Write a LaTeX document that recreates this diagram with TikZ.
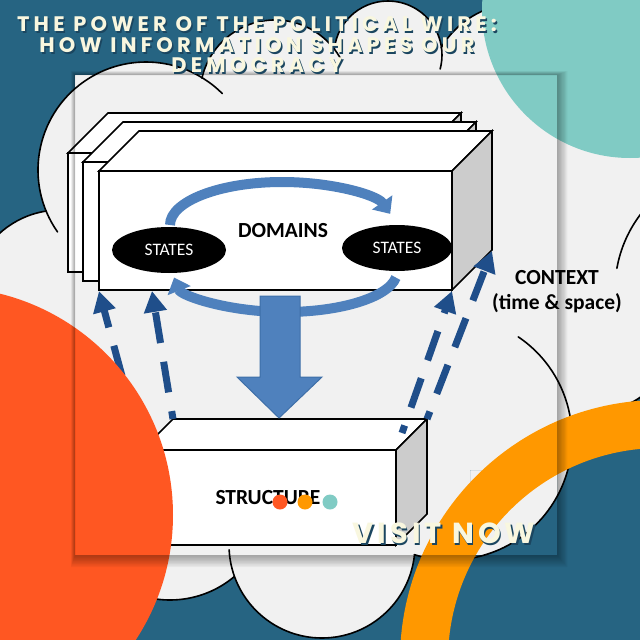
\documentclass[tikz,border=0pt]{standalone}
\usepackage{fontspec}
\setmainfont{Carlito}
\newfontfamily\titlefont{Poppins}[LetterSpace=20]
\newfontfamily\visitfont{Poppins}[LetterSpace=14]
\usetikzlibrary{arrows.meta,shapes.geometric}
\definecolor{bgblue}{HTML}{266482}
\definecolor{cloudgray}{HTML}{F1F1F1}
\definecolor{tealc}{HTML}{80CBC4}
\definecolor{orangered}{HTML}{FF5722}
\definecolor{orangec}{HTML}{FF9800}
\definecolor{blockblue}{HTML}{4F81BD}
\definecolor{blockedge}{HTML}{3E6FA8}
\definecolor{dashblue}{HTML}{1F4E8A}
\definecolor{sidegray}{HTML}{CCCCCC}
\definecolor{cream}{HTML}{F9F7DF}
\definecolor{tshadow}{HTML}{1B4660}
\newcommand{\shadowtext}[1]{\makebox[0pt][l]{\kern1.5pt\raisebox{-2pt}{\color{tshadow}#1}}#1}
\tikzset{
 cloudline/.style={draw=black, line width=1.6pt, line cap=round},
 boxface/.style={draw=black, line width=1.6pt, fill=white, line join=miter},
 sideface/.style={boxface, fill=sidegray},
 curvearrow/.style={draw=blockblue, line width=10pt, -{Triangle[width=24pt,length=14pt]}},
 blockarrow/.style={fill=blockblue, draw=blockedge, line width=1pt},
 dasharrow/.style={draw=dashblue, line width=7pt, dash pattern=on 31pt off 19pt, dash phase=23pt, -{Triangle[width=22pt,length=21pt]}},
 statenode/.style={ellipse, fill=black, inner sep=0pt, text=white, font=\fontsize{17.5}{17.5}\selectfont},
 labelnode/.style={font=\bfseries\fontsize{21.5}{21.5}\selectfont, text=black},
 titletext/.style={font=\titlefont\bfseries\fontsize{21}{21}\selectfont, anchor=base, text=cream, inner sep=0pt},
 dotnode/.style={circle, inner sep=0pt, minimum size=15pt},
}
\begin{document}
\begin{tikzpicture}[x=1pt,y=-1pt]
\useasboundingbox (0,0) rectangle (640,640);
\fill[bgblue] (0,0) rectangle (640,640);
% cloud fill
\fill[cloudgray] (146,170) circle (108) (60,300) circle (90) (275,95) circle (75) (388,55) circle (54) (520,95) circle (92) (600,200) circle (70) (680,265) circle (130) (600,340) circle (70) (590,400) circle (40) (450,438) circle (122) (322,545) circle (93) (170,500) circle (100);
\fill[cloudgray] (90,110) -- (205,85) -- (335,62) -- (440,60) -- (500,90) -- (560,140) -- (560,400) -- (520,500) -- (420,550) -- (245,575) -- (120,560) -- (50,300) -- (60,200) -- cycle;
% panel
\fill[cloudgray] (75,75) rectangle (557,555);
\begin{scope}
\clip (470,470) rectangle (557,555);
\fill[bgblue, even odd rule] (470,470) rectangle (557,555) (450,438) circle (122);
\end{scope}
% cloud outline
\draw[cloudline] (60,300) ++(200:90) arc[start angle=200, end angle=261, radius=90];
\draw[cloudline] (146,170) ++(145:108) arc[start angle=145, end angle=315, radius=108];
\draw[cloudline] (275,95) ++(193:75) arc[start angle=193, end angle=332, radius=75];
\draw[cloudline] (388,55) ++(186:54) arc[start angle=186, end angle=375, radius=54];
\draw[cloudline] (520,95) ++(211:92) arc[start angle=211, end angle=300, radius=92];
\draw[cloudline] (740,290) ++(190:125) arc[start angle=190, end angle=218, radius=125];
\draw[cloudline] (600,340) ++(35:70) arc[start angle=35, end angle=82, radius=70];
\draw[cloudline] (450,438) ++(304:122) arc[start angle=304, end angle=467, radius=122];
\draw[cloudline] (322,545) ++(177:93) arc[start angle=177, end angle=6, radius=93];
\draw[cloudline] (170,500) ++(120:100) arc[start angle=120, end angle=50, radius=100];
% domain boxes
\foreach \dx/\dy in {-31/-18,-16/-9,0/0}{
 \begin{scope}[shift={(\dx,\dy)}]
 \draw[boxface] (99,171) -- (139,131) -- (492,131) -- (452,171) -- cycle;
 \draw[sideface] (452,171) -- (492,131) -- (492,250) -- (452,290) -- cycle;
 \draw[boxface] (99,171) rectangle (452,290);
 \end{scope}}
\coordinate (fbl) at (99,291);
\coordinate (fbm) at (152,291);
\coordinate (fbr) at (452,291);
\coordinate (fbrb) at (492,251);
\node[statenode, minimum width=114pt, minimum height=46pt] (stL) at (169,250) {STATES};
\node[statenode, minimum width=110pt, minimum height=46pt] (stR) at (397,248) {STATES};
\node[labelnode] (dom) at (283,231) {DOMAINS};
% curved arrows
\draw[curvearrow] (282,225) ++(180:112 and 43) arc[start angle=180, end angle=345, x radius=112, y radius=43];
\draw[curvearrow] (285,272) ++(8:112 and 40) arc[start angle=8, end angle=172, x radius=112, y radius=40];
% structure box
\draw[boxface] (142,450) -- (173,419) -- (427,419) -- (396,450) -- cycle;
\draw[sideface] (396,450) -- (427,419) -- (427,514) -- (396,545) -- cycle;
\draw[boxface] (142,450) rectangle (396,545);
\coordinate (sfl) at (142,450);
\coordinate (sbl) at (173,419);
\coordinate (sfr) at (402,433);
\coordinate (sbr) at (427,419);
\node[labelnode] (struct) at (268,498) {STRUCTURE};
% block arrow
\draw[blockarrow] (260,296) -- (300,296) -- (300,377) -- (322,377) -- (279,418) -- (237,377) -- (260,377) -- cycle;
% dashed arrows
\draw[dasharrow] (sfl) -- (fbl);
\draw[dasharrow] (sbl) -- (fbm);
\draw[dasharrow] (sfr) -- (fbr);
\draw[dasharrow] (sbr) -- (fbrb);
% dots
\node[dotnode, fill=orangered] (d1) at (280,502) {};
\node[dotnode, fill=orangec] (d2) at (305,502) {};
\node[dotnode, fill=tealc] (d3) at (330,502) {};
% context
\node[labelnode, anchor=base] (ctx1) at (557,284) {CONTEXT};
\node[labelnode, anchor=base] (ctx2) at (557,309) {(time \& space)};
% decorative circles
\fill[tealc] (630,10) circle (148);
\fill[orangered] (-55,515) circle (228);
\fill[orangec, even odd rule] (660,660) circle (260) (660,660) circle (212);
% panel shadow
\foreach \k in {1,...,8}
 \fill[black, opacity=0.045, even odd rule] (75-0.5*\k,75-0.5*\k) rectangle (557+1.3*\k,555+1.5*\k) (75,75) rectangle (557,555);
% titles
\node[titletext] (t1) at (257,31) {\shadowtext{THE POWER OF THE POLITICAL WIRE:}};
\node[titletext] (t2) at (257,52) {\shadowtext{HOW INFORMATION SHAPES OUR}};
\node[titletext] (t3) at (257,72) {\shadowtext{DEMOCRACY}};
\node[titletext, font=\visitfont\bfseries\fontsize{29}{29}\selectfont] (vn) at (444,543) {\shadowtext{VISIT NOW}};
\end{tikzpicture}
\end{document}
